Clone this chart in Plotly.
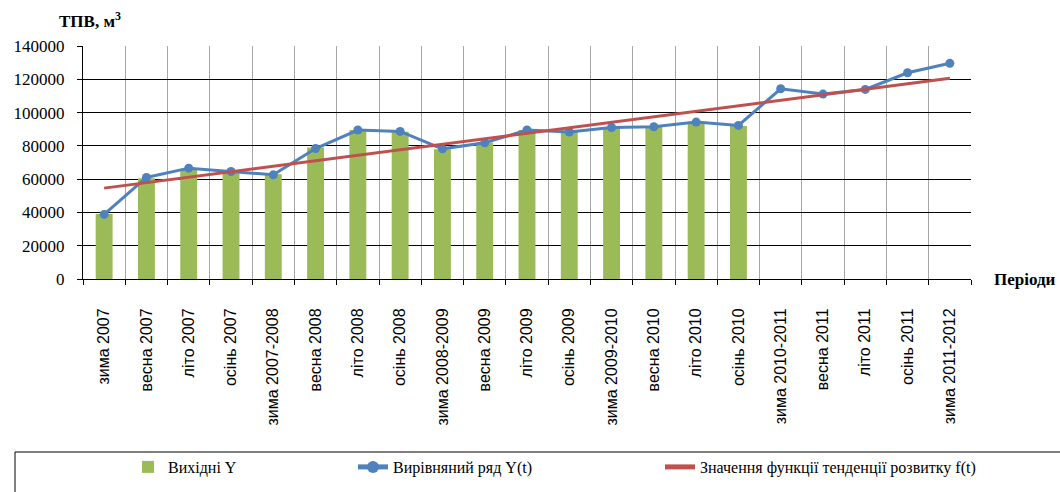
import plotly.graph_objects as go

periods = ["зима 2007", "весна 2007", "літо 2007", "осінь 2007", "зима 2007-2008",
           "весна 2008", "літо 2008", "осінь 2008", "зима 2008-2009", "весна 2009",
           "літо 2009", "осінь 2009", "зима 2009-2010", "весна 2010", "літо 2010",
           "осінь 2010", "зима 2010-2011", "весна 2011", "літо 2011", "осінь 2011",
           "зима 2011-2012"]

source_y = [39000, 60500, 65500, 64000, 63000, 79000, 89500, 88500, 78000, 82000,
            89500, 88500, 91000, 91500, 93500, 92000]

smoothed_y = [38800, 61000, 66600, 64600, 62600, 78400, 89500, 88700, 78200, 81800,
              89500, 88300, 91000, 91500, 94300, 92300, 114300, 111100, 113900, 123900,
              129600]

trend_f = [54600, 57900, 61200, 64500, 67800, 71100, 74400, 77700, 81000, 84300,
           87600, 90900, 94200, 97500, 100800, 104100, 107400, 110700, 114000, 117300,
           120600]

y_ticks = [0, 20000, 40000, 60000, 80000, 100000, 120000, 140000]

serif = "Liberation Serif"
sans = "Liberation Sans"

fig = go.Figure()
fig.add_trace(go.Bar(
    x=periods[:len(source_y)], y=source_y, name="Вихідні Y",
    marker=dict(color="#9bbb59", line=dict(width=0)), width=0.4,
    legendwidth=180,
))
fig.add_trace(go.Scatter(
    x=periods, y=smoothed_y, name="Вирівняний ряд Y(t)", mode="lines+markers",
    line=dict(color="#4f81bd", width=3), marker=dict(color="#4f81bd", size=9, symbol="circle"),
    legendwidth=262,
))
fig.add_trace(go.Scatter(
    x=periods, y=trend_f, name="Значення функції тенденції розвитку f(t)", mode="lines",
    line=dict(color="#c0504d", width=3),
))

fig.update_layout(
    width=1060, height=492,
    margin=dict(l=83, r=89, t=46, b=213, autoexpand=False),
    paper_bgcolor="white", plot_bgcolor="white",
    showlegend=True,
    legend=dict(orientation="h", x=(128 - 83) / 888, xanchor="left",
                y=(279 - 467) / 233, yanchor="middle",
                font=dict(family=serif, size=16, color="black"),
                bgcolor="rgba(0,0,0,0)", borderwidth=0, itemsizing="constant"),
    xaxis=dict(
        type="category", categoryorder="array", categoryarray=periods,
        range=[-0.5, len(periods) - 0.5], automargin=False,
        tickson="boundaries", ticks="outside", ticklen=5, tickcolor="black",
        showgrid=True, gridcolor="#a6a6a6", gridwidth=1,
        showline=True, linecolor="black", linewidth=1,
        tickangle=-90, tickfont=dict(family=sans, size=16, color="black"),
        ticklabelstandoff=22,
    ),
    yaxis=dict(
        range=[0, 140000], tickvals=y_ticks, ticktext=[str(v) for v in y_ticks],
        automargin=False,
        ticks="outside", ticklen=5, tickcolor="black",
        showgrid=True, gridcolor="black", gridwidth=1,
        showline=True, linecolor="black", linewidth=1, zeroline=False,
        tickfont=dict(family=serif, size=17, color="black"),
        ticklabelstandoff=9,
    ),
    bargap=0.6,
    shapes=[dict(type="rect", xref="paper", yref="paper",
                 x0=(15 - 83) / 888, x1=(1070 - 83) / 888,
                 y0=(279 - 452) / 233, y1=(279 - 500) / 233,
                 line=dict(color="black", width=1), fillcolor="rgba(0,0,0,0)")],
    annotations=[
        dict(text="<b>ТПВ, м<sup>3</sup></b>", xref="paper", yref="paper",
             x=(57 - 83) / 888, y=(279 - 20) / 233, xanchor="left", yanchor="middle",
             showarrow=False, font=dict(family=serif, size=17, color="black")),
        dict(text="<b>Періоди</b>", xref="paper", yref="paper",
             x=(992 - 83) / 888, y=(279 - 279) / 233, xanchor="left", yanchor="middle",
             showarrow=False, font=dict(family=serif, size=17, color="black")),
    ],
)

fig.write_html("out.html", config={"displayModeBar": False},
               post_script="document.body.style.margin='0';document.body.style.overflow='hidden';")
